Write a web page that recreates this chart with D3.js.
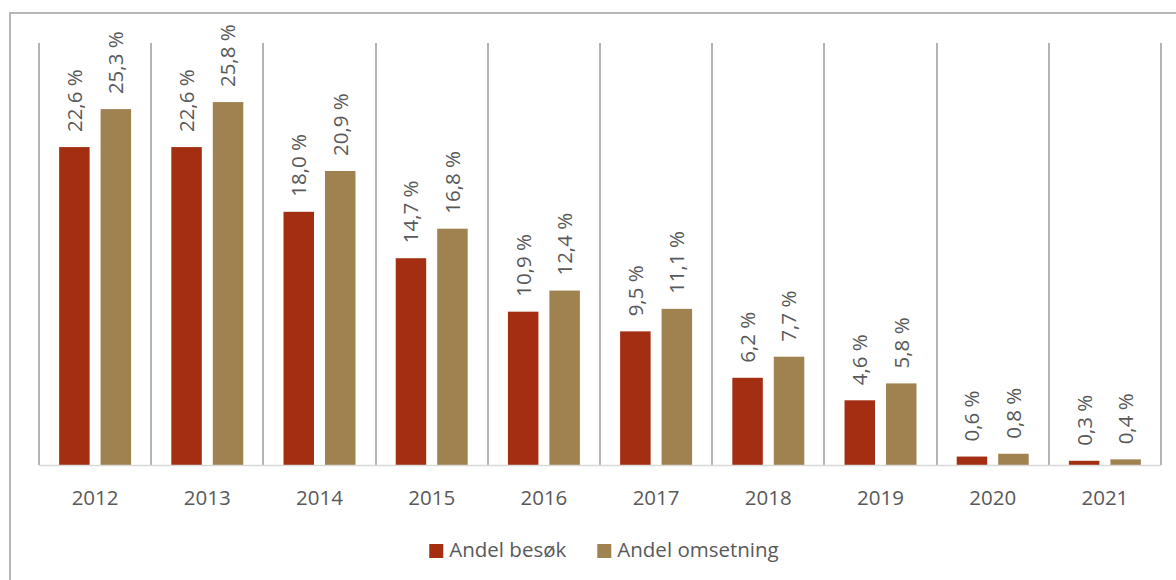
<!DOCTYPE html>
<html>
<head>
<meta charset="utf-8">
<script src="https://cdn.jsdelivr.net/npm/d3@7"></script>
<style>
	body { margin: 0; background: #fff; }
	svg { display: block; }
	text { font-family: "Open Sans", sans-serif; fill: #595959; }
</style>
</head>
<body>
<div id="chart"></div>
<script>
// data
var years = ["2012", "2013", "2014", "2015", "2016", "2017", "2018", "2019", "2020", "2021"];
var seriesNames = ["Andel besøk", "Andel omsetning"];
var besok = [22.6, 22.6, 18.0, 14.7, 10.9, 9.5, 6.2, 4.6, 0.6, 0.3];
var omsetning = [25.3, 25.8, 20.9, 16.8, 12.4, 11.1, 7.7, 5.8, 0.8, 0.4];
var colors = ["#A32E12", "#9F8250"];

var width = 1176, height = 580;
var fontSize = "20.5px";

// plot area
var plotLeft = 39, plotRight = 1161, plotTop = 43, plotBottom = 465;

var svg = d3.select("#chart")
	.append("svg")
	.attr("width", width)
	.attr("height", height);

// outer frame
svg.append("rect")
	.attr("x", 10)
	.attr("y", 13)
	.attr("width", width + 20)
	.attr("height", height + 20)
	.attr("fill", "none")
	.attr("stroke", "#A6A6A6")
	.attr("stroke-width", 1.6);

var x0 = d3.scaleBand()
	.domain(years)
	.range([plotLeft, plotRight])
	.padding(0);

var x1 = d3.scaleBand()
	.domain(seriesNames)
	.range([0, x0.bandwidth()])
	.paddingInner(0.265)
	.paddingOuter(0.485);

var y = d3.scaleLinear()
	.domain([0, 30])
	.range([plotBottom, plotTop]);

// vertical gridlines between categories
var bounds = years.map(function(d) { return x0(d); }).concat([plotRight]);
svg.append("g")
	.selectAll("line")
	.data(bounds)
	.enter()
	.append("line")
	.attr("x1", function(d) { return Math.round(d); })
	.attr("x2", function(d) { return Math.round(d); })
	.attr("y1", plotTop)
	.attr("y2", plotBottom)
	.attr("stroke", "#B3B3B3")
	.attr("stroke-width", 2);

// rows: one per year with both values
var rows = years.map(function(yr, i) {
	return { year: yr, values: [besok[i], omsetning[i]] };
});

var groups = svg.append("g")
	.selectAll("g")
	.data(rows)
	.enter()
	.append("g")
	.attr("transform", function(d) { return "translate(" + x0(d.year) + ",0)"; });

var bars = groups.selectAll("rect")
	.data(function(d) {
		return d.values.map(function(v, j) { return { name: seriesNames[j], value: v, idx: j }; });
	})
	.enter();

bars.append("rect")
	.attr("x", function(d) { return x1(d.name); })
	.attr("y", function(d) { return y(d.value); })
	.attr("width", x1.bandwidth())
	.attr("height", function(d) { return plotBottom - y(d.value); })
	.attr("fill", function(d) { return colors[d.idx]; });

// rotated value labels
var fmt = function(v) { return v.toFixed(1).replace(".", ",") + " %"; };
bars.append("text")
	.attr("transform", function(d) {
		var cx = x1(d.name) + x1.bandwidth() / 2;
		return "translate(" + cx + "," + (y(d.value) - 15) + ") rotate(-90)";
	})
	.attr("dy", "0.36em")
	.attr("text-anchor", "start")
	.style("font-size", fontSize)
	.text(function(d) { return fmt(d.value); });

// baseline
svg.append("line")
	.attr("x1", plotLeft)
	.attr("x2", plotRight)
	.attr("y1", plotBottom + 0.5)
	.attr("y2", plotBottom + 0.5)
	.attr("stroke", "#D9D9D9")
	.attr("stroke-width", 1.5);

// category labels
svg.append("g")
	.selectAll("text")
	.data(years)
	.enter()
	.append("text")
	.attr("x", function(d) { return x0(d) + x0.bandwidth() / 2; })
	.attr("y", 505)
	.attr("text-anchor", "middle")
	.style("font-size", fontSize)
	.text(function(d) { return d; });

// legend
var legend = svg.append("g");
var items = legend.selectAll("g")
	.data(seriesNames)
	.enter()
	.append("g");
items.append("rect")
	.attr("width", 14)
	.attr("height", 14)
	.attr("y", 544)
	.attr("fill", function(d, i) { return colors[i]; });
items.append("text")
	.attr("x", 20)
	.attr("y", 557)
	.style("font-size", fontSize)
	.text(function(d) { return d; });

var widths = [];
items.each(function() {
	widths.push(d3.select(this).select("text").node().getComputedTextLength() + 20);
});
var gap = 31;
var total = d3.sum(widths) + gap * (widths.length - 1);
var lx = 604 - total / 2;
items.attr("transform", function(d, i) {
	var xx = lx;
	lx += widths[i] + gap;
	return "translate(" + xx + ",0)";
});
</script>
</body>
</html>
